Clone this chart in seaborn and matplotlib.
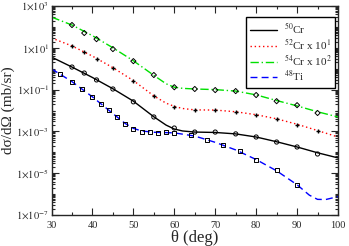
import matplotlib
matplotlib.use('Agg')
import matplotlib.pyplot as plt
import matplotlib.ticker as mticker
import seaborn as sns
import numpy as np
import pandas as pd

sns.set_style('ticks')
plt.rcParams['font.family'] = ['Liberation Serif', 'DejaVu Serif']
plt.rcParams['mathtext.fontset'] = 'stix'

# --- theory curves ---
th_curve = [30, 35, 40, 45, 50, 55, 58, 60, 62, 65, 70, 75, 80, 85, 90, 95, 100]
cr50_curve = [3.6, 1.2, 0.38, 0.11, 0.028, 5.0e-3, 2.0e-3, 1.3e-3, 1.05e-3, 9.3e-4,
              8.9e-4, 7.6e-4, 5.4e-4, 3.2e-4, 1.8e-4, 9.5e-5, 5.4e-5]
cr52_curve = [29.5, 12.3, 4.0, 1.12, 0.27, 0.050, 0.0224, 0.0158, 0.0125, 0.0107,
              0.0105, 8.7e-3, 6.3e-3, 4.0e-3, 2.2e-3, 1.1e-3, 5.4e-4]
cr54_curve = [295, 123, 38, 10, 2.4, 0.48, 0.19, 0.13, 0.115, 0.107,
              0.10, 0.085, 0.056, 0.030, 0.0166, 8.7e-3, 4.9e-3]
th_ti_curve = [30, 32, 35, 40, 45, 48, 50, 52, 55, 60, 65, 70, 75, 80, 85, 90, 93, 95, 97, 100]
ti48_curve = [0.98, 0.56, 0.24, 0.045, 7.1e-3, 2.4e-3, 1.4e-3, 1.05e-3, 9.1e-4, 8.5e-4,
              6.0e-4, 3.0e-4, 1.3e-4, 4.5e-5, 1.3e-5, 2.8e-6, 8.9e-7, 5.6e-7, 5.5e-7, 7.6e-7]

# --- experimental points ---
th_cr_exp = [35, 38, 41, 45, 50, 55, 60, 65, 70, 75, 80, 85, 90, 95]
cr50_exp = [1.2, 0.62, 0.29, 0.107, 0.026, 4.9e-3, 1.45e-3, 9.3e-4, 9.3e-4,
            7.6e-4, 5.4e-4, 3.1e-4, 1.8e-4, 8.3e-5]
cr52_exp = [12.3, 6.3, 2.9, 1.07, 0.26, 0.049, 0.0148, 0.0105, 0.0105,
            8.5e-3, 6.0e-3, 3.9e-3, 2.0e-3, 1.05e-3]
cr54_exp = [123, 51, 26, 8.7, 2.3, 0.50, 0.13, 0.107, 0.095,
            0.085, 0.055, 0.028, 0.018, 7.6e-3]
th_ti_exp = [32, 35, 37.5, 40, 42, 44, 46, 48, 50, 52, 54, 56, 58, 60,
             64, 68, 72, 76, 80, 85, 90]
ti48_exp = [0.56, 0.23, 0.107, 0.045, 0.020, 0.0105, 4.9e-3, 2.2e-3, 1.3e-3, 9.3e-4,
            9.3e-4, 8.3e-4, 9.3e-4, 8.3e-4, 6.8e-4, 3.9e-4, 2.2e-4, 1.15e-4,
            4.3e-5, 1.4e-5, 2.75e-6]

fig = plt.figure(figsize=(3.49, 2.46), dpi=100)
ax = fig.add_axes([0.1476, 0.126, 0.8209, 0.8496])

lw = 1.0
sns.lineplot(x=th_curve, y=cr50_curve, color='black', linestyle='-', lw=lw,
             label=r'$^{50}$Cr', ax=ax)
sns.lineplot(x=th_curve, y=cr52_curve, color='#ff0000', linestyle=(0, (1, 2)), lw=lw,
             label=r'$^{52}$Cr x 10$^{1}$', ax=ax)
sns.lineplot(x=th_curve, y=cr54_curve, color='#00e000', linestyle=(0, (6, 2, 1, 2)), lw=lw,
             label=r'$^{54}$Cr x 10$^{2}$', ax=ax)
sns.lineplot(x=th_ti_curve, y=ti48_curve, color='#0000ff', linestyle=(0, (5, 3)), lw=lw,
             label=r'$^{48}$Ti', ax=ax)

sns.scatterplot(x=th_cr_exp, y=cr50_exp, marker='o', s=9, facecolor='none',
                edgecolor='black', linewidth=0.7, ax=ax, zorder=5)
sns.scatterplot(x=th_cr_exp, y=cr52_exp, marker='+', s=10, color='black',
                linewidth=1.0, ax=ax, zorder=5)
sns.scatterplot(x=th_cr_exp, y=cr54_exp, marker='D', s=7, facecolor='none',
                edgecolor='black', linewidth=0.7, ax=ax, zorder=5)
sns.scatterplot(x=th_ti_exp, y=ti48_exp, marker='s', s=8, facecolor='none',
                edgecolor='black', linewidth=0.7, ax=ax, zorder=5)

ax.set_yscale('log')
ax.set_xlim(30, 100)
ax.set_ylim(1e-7, 1e3)

ax.xaxis.set_major_locator(mticker.MultipleLocator(10))
ax.xaxis.set_minor_locator(mticker.MultipleLocator(5))
ax.yaxis.set_major_locator(mticker.FixedLocator([1e-7, 1e-5, 1e-3, 1e-1, 1e1, 1e3]))
ax.yaxis.set_minor_locator(mticker.LogLocator(base=10, subs=np.arange(1, 10), numticks=100))
ax.yaxis.set_major_formatter(mticker.FuncFormatter(
    lambda v, p: r'$1{\times}10^{%d}$' % int(round(np.log10(v)))))
ax.yaxis.set_minor_formatter(mticker.NullFormatter())

ax.tick_params(which='both', direction='in', top=True, right=True, labelsize=7.5,
               width=0.8)
ax.tick_params(axis='x', pad=4)
ax.tick_params(axis='y', pad=2)
ax.tick_params(which='major', length=5)
ax.tick_params(which='minor', length=2.5)
for sp in ax.spines.values():
    sp.set_linewidth(1.0)

ax.set_xlabel(r'θ (deg)', fontsize=12, labelpad=0)
ax.set_ylabel('dσ/dΩ (mb/sr)', fontsize=11, labelpad=1)

leg = ax.legend(loc='upper right', bbox_to_anchor=(0.99, 0.945), borderaxespad=0,
                fontsize=8, handlelength=2.4, handletextpad=0.6, labelspacing=0.1,
                borderpad=0.35, fancybox=False, framealpha=1)
leg.get_frame().set_edgecolor('black')
leg.get_frame().set_linewidth(1.0)

plt.savefig('out.png', dpi=100)
